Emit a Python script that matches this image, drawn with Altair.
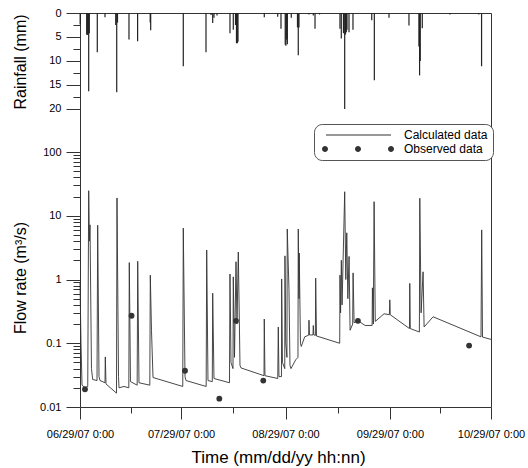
import altair as alt
import pandas as pd

START = pd.Timestamp("2007-06-29 00:00")

# Calculated flow rate (m3/s): days after 06/29/07 0:00 and values
flow_days = [0.0, 0.3, 0.6, 1.5, 2.3, 2.58, 2.8, 2.97, 3.4, 3.77, 5.05, 5.25, 5.64, 5.94,
             7.42, 7.51, 7.72, 10.83, 10.98, 11.43, 11.58, 13.06, 14.49, 14.63, 14.99,
             16.97, 17.13, 17.51, 20.72, 20.87, 21.22, 21.67, 30.5, 30.66, 31.17, 31.46,
             37.45, 37.61, 37.99, 39.27, 39.39, 39.77, 44.37, 44.52, 44.82, 45.41, 45.5,
             45.86, 46.31, 46.6, 46.99, 47.49, 47.79, 54.62, 54.7, 54.9, 58.7, 58.86, 59.06,
             59.8, 59.86, 60.1, 60.78, 60.84, 61.08, 61.43, 61.52, 62.03, 62.33, 62.62,
             64.02, 64.7, 64.79, 65.0, 65.08, 65.44, 65.68, 66.69, 67.88, 67.97, 68.12,
             69.16, 69.25, 69.4, 69.87, 69.96, 70.2, 77.09, 77.17, 77.35, 77.58, 77.79,
             78.57, 78.9, 79.19, 79.51, 79.87, 80.17, 80.94, 81.06, 81.36, 82.55, 84.63,
             86.71, 86.8, 87.07, 87.3, 87.65, 90.26, 91.84, 91.96, 92.1, 97.8, 97.89, 98.04,
             100.74, 100.86, 101.25, 101.84, 102.14, 104.81, 119.03, 119.24, 119.48, 122.0]
flow_vals = [0.88, 0.1, 0.022, 0.02, 0.021, 24.7, 4.0, 7.2, 0.04, 0.027, 0.026, 7.1, 0.03, 0.026,
             0.024, 0.061, 0.023, 0.0165, 19.0, 0.03, 0.02, 0.021, 0.02, 1.84, 0.025,
             0.022, 1.93, 0.024, 0.022, 1.17, 0.16, 0.029, 0.021, 6.4, 0.03, 0.026,
             0.021, 2.9, 0.026, 0.025, 0.61, 0.028, 0.024, 1.22, 0.05, 0.04, 1.1,
             0.06, 1.9, 0.2, 2.7, 0.045, 0.041, 0.031, 0.24, 0.031, 0.028, 0.18, 0.03,
             0.03, 1.02, 0.05, 0.04, 2.35, 0.1, 0.06, 6.2, 0.7, 0.045, 0.04,
             0.055, 0.06, 6.2, 0.5, 2.6, 0.1, 0.089, 0.126, 0.134, 0.23, 0.135,
             0.135, 0.19, 0.135, 0.133, 1.05, 0.13, 0.1, 1.17, 0.3, 2.0, 0.4,
             23.8, 1.0, 5.4, 0.5, 2.3, 0.16, 0.2, 1.27, 0.21, 0.225, 0.19,
             0.19, 0.74, 0.2, 16.6, 0.22, 0.29, 0.28, 0.48, 0.28, 0.17, 0.87, 0.17,
             0.15, 18.8, 0.3, 1.32, 0.18, 0.26, 0.126, 6.0, 0.125, 0.115]

# Observed flow rate
obs_days = [1.48, 15.3, 31.17, 41.35, 46.3, 54.4, 82.5, 115.5]
obs_vals = [0.019, 0.27, 0.037, 0.0135, 0.225, 0.026, 0.225, 0.092]

# Rainfall (mm)
rain_days = [0.05, 1.99, 2.17, 2.37, 2.58, 2.76, 5.13, 7.42, 10.6, 10.9, 11.13, 14.54, 17.1,
             20.84, 20.98, 30.66, 37.4, 38.88, 39.39, 39.77, 40.67, 44.52, 45.5, 46.16,
             46.45, 46.7, 46.9, 54.7, 58.68, 59.66, 60.92, 61.13, 61.34, 61.55, 62.72,
             64.56, 64.79, 65.0, 67.97, 69.25, 69.76, 71.1, 77.17, 77.56, 78.21, 78.57,
             78.81, 79.05, 79.26, 79.85, 81.03, 86.6, 87.37, 91.72, 97.65, 100.6, 100.8,
             101.0, 101.6, 109.8, 118.4, 119.2]
rain_mm = [2.4, 4.5, 4.6, 4.5, 16.3, 4.2, 8.2, 0.9, 2.5, 16.5, 2.0, 5.5, 5.9,
           2.0, 3.6, 11.1, 8.2, 0.4, 2.1, 1.0, 0.5, 4.2, 3.5, 2.5,
           6.3, 6.3, 6.0, 0.9, 0.8, 3.3, 6.6, 6.8, 5.5, 6.5, 1.0,
           3.0, 8.8, 3.0, 0.3, 0.5, 3.3, 0.3, 3.3, 5.3, 4.2, 20.0,
           4.5, 4.0, 3.5, 4.0, 3.5, 1.5, 14.0, 1.0, 2.6, 7.0, 13.0,
           10.0, 3.2, 0.3, 0.3, 11.1]

series_names = ["Calculated data", "Observed data"]


def to_time(days):
    return [(START + pd.to_timedelta(d, unit="D")).strftime("%Y-%m-%dT%H:%M:%S") for d in days]


flow_df = pd.DataFrame({"time": to_time(flow_days), "flow": flow_vals})
obs_df = pd.DataFrame({"time": to_time(obs_days), "flow": obs_vals})
rain_df = pd.DataFrame({"time": to_time(rain_days), "mm": rain_mm})

FONT = "Liberation Sans"

x_ticks = [
    alt.DateTime(year=2007, month=6, date=29),
    alt.DateTime(year=2007, month=7, date=14),
    alt.DateTime(year=2007, month=7, date=29),
    alt.DateTime(year=2007, month=8, date=13, hours=12),
    alt.DateTime(year=2007, month=8, date=29),
    alt.DateTime(year=2007, month=9, date=13, hours=12),
    alt.DateTime(year=2007, month=9, date=29),
    alt.DateTime(year=2007, month=10, date=14),
    alt.DateTime(year=2007, month=10, date=29),
]
x_scale = alt.Scale(domain=[alt.DateTime(year=2007, month=6, date=29),
                            alt.DateTime(year=2007, month=10, date=29)],
                    padding=0, nice=False)
x_axis = alt.Axis(
    values=x_ticks,
    title="Time (mm/dd/yy hh:nn)",
    titleFontSize=17,
    titleX=198,
    titleY=50,
    titleBaseline="middle",
    labelExpr="date(datum.value) == 29 ? timeFormat(datum.value, '%m/%d/%y %-H:%M') : ''",
    tickSize={"condition": {"test": "date(datum.value) == 29", "value": 12}, "value": 6},
    labelPadding=9,
    labelFlush=False,
    labelOverlap=False,
)

rain_ticks = [0, 2.5, 5, 7.5, 10, 12.5, 15, 17.5, 20]
rain_axis = alt.Axis(
    orient="left",
    values=rain_ticks,
    title="Rainfall (mm)",
    titleFontSize=16,
    titleX=-60,
    titleY=48.5,
    titleBaseline="middle",
    titleAngle=-90,
    labelExpr="datum.value % 5 == 0 ? format(datum.value, 'd') : ''",
    tickSize={"condition": {"test": "datum.value % 5 == 0", "value": 14}, "value": 7},
    labelPadding=5,
    labelFlush=False,
    labelOverlap=False,
)

flow_ticks = [m * 10.0 ** e for e in range(-2, 2) for m in range(1, 10)] + [100.0]
is_major = "abs(log(datum.value)/LN10 - round(log(datum.value)/LN10)) < 1e-6"
flow_axis = alt.Axis(
    orient="left",
    values=flow_ticks,
    title="Flow rate (m³/s)",
    titleFontSize=16,
    titleX=-60,
    titleY=264.5,
    titleBaseline="middle",
    titleAngle=-90,
    labelExpr=f"{is_major} ? format(datum.value, '~g') : ''",
    tickSize={"condition": {"test": is_major, "value": 14}, "value": 7},
    labelPadding=5,
    labelFlush=False,
    labelOverlap=False,
)

x_enc = alt.X("time:T", scale=x_scale, axis=x_axis)

rain = alt.Chart(rain_df).mark_bar(size=1.2, color="#222").encode(
    x=x_enc,
    y=alt.Y("mm:Q", scale=alt.Scale(domain=[0, 28.96], range=[0, 139]), axis=rain_axis),
)

flow_y = alt.Y("flow:Q", scale=alt.Scale(type="log", domain=[0.01, 100], range=[394, 139]),
               axis=flow_axis)

line = alt.Chart(flow_df).mark_line(color="#333", strokeWidth=0.9).encode(x=x_enc, y=flow_y)

points = alt.Chart(obs_df).mark_circle(size=34, color="#333", opacity=1).encode(x=x_enc, y=flow_y)

# legend symbols (unit = 3 px): a thin filled bar, and three dots
line_sym = "M0.33,-0.17L22,-0.17L22,0.17L0.33,0.17Z"
dots_sym = ("M1,0A1,1,0,1,0,-1,0A1,1,0,1,0,1,0Z"
            "M12,0A1,1,0,1,0,10,0A1,1,0,1,0,12,0Z"
            "M23,0A1,1,0,1,0,21,0A1,1,0,1,0,23,0Z")

legend_layer = alt.Chart(obs_df).transform_filter("datum.flow < 0").transform_calculate(
    series="'Observed data'"
).mark_point(filled=True, color="#333").encode(
    x=x_enc,
    y=flow_y,
    shape=alt.Shape(
        "series:N",
        scale=alt.Scale(domain=series_names, range=[line_sym, dots_sym]),
        legend=alt.Legend(
            title=None,
            orient="none",
            legendX=234,
            legendY=111,
            strokeColor="#555",
            fillColor="white",
            cornerRadius=8,
            padding=5,
            labelFont=FONT,
            labelFontSize=12,
            labelColor="black",
            labelOffset=73,
            symbolSize=36,
            symbolStrokeWidth=0,
            symbolFillColor="#333",
            symbolOpacity=1,
            rowPadding=2,
        ),
    ),
)

flow_layer = alt.layer(line, points, legend_layer)

chart = alt.layer(rain, flow_layer).resolve_scale(y="independent").properties(
    width=411,
    height=394,
    padding={"left": 80, "top": 13, "right": 37, "bottom": 61},
    autosize=alt.AutoSizeParams(type="none"),
).configure_axis(
    labelFont=FONT,
    titleFont=FONT,
    labelFontSize=11,
    labelColor="black",
    titleColor="black",
    titleFontWeight="normal",
    tickColor="#333",
    tickWidth=1,
    domain=False,
    grid=False,
).configure_view(
    stroke="#333",
    strokeWidth=1,
)

chart.save("out.html", embed_options={"renderer": "svg", "actions": False})
